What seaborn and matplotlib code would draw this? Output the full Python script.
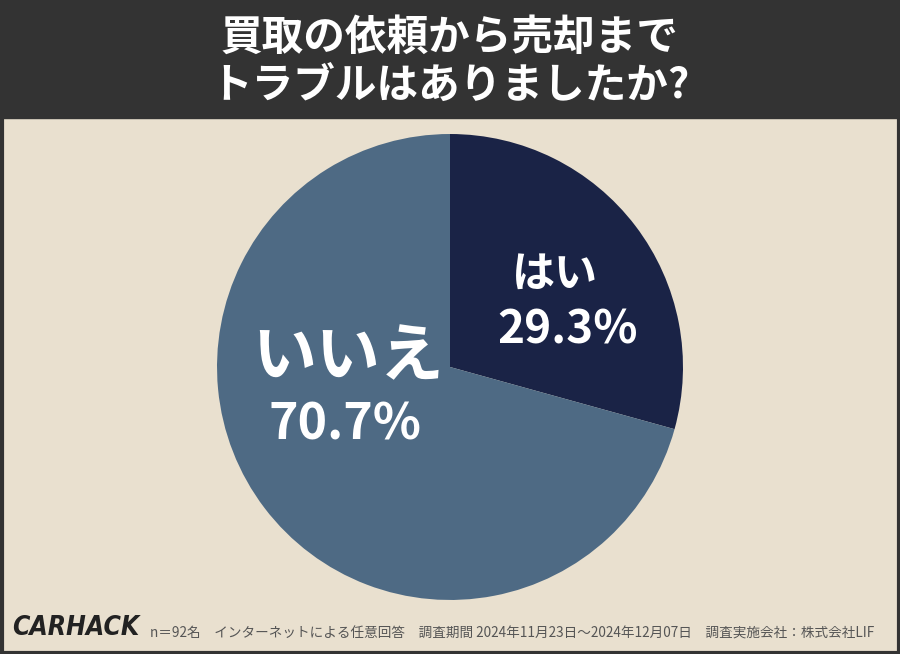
import matplotlib
matplotlib.use("Agg")
import matplotlib.pyplot as plt
import seaborn as sns
from matplotlib.patches import Rectangle

sns.set_theme(style="white")
plt.rcParams['font.family'] = ['Noto Sans CJK JP', 'DejaVu Sans']

labels = ["はい", "いいえ"]
values = [29.3, 70.7]
colors = ["#1a2346", "#4e6a84"]
title = "買取の依頼から売却まで\nトラブルはありましたか?"
footer = "n＝92名　インターネットによる任意回答　調査期間 2024年11月23日〜2024年12月07日　調査実施会社：株式会社LIF"

fig = plt.figure(figsize=(9, 6.54), dpi=100)
fig.patch.set_facecolor("#e9e0cf")
fig.patches.append(Rectangle((0, 654-118), 900, 118, transform=None, color="#333333", zorder=0))
fig.patches.append(Rectangle((1.5, 1.5), 897, 651, transform=None, fill=False, ec="#333333", lw=3, zorder=5))
fig.text(0.5, 1-62/654, title, ha="center", va="center", color="white", fontsize=30, fontweight="bold", linespacing=1.2)

ax = fig.add_axes([0.241, 0.0826, 0.518, 0.7125])
ax.pie(values, colors=colors, startangle=90, counterclock=False, radius=1,
       wedgeprops=dict(linewidth=0))
ax.set_aspect("equal")
ax.set_xlim(-1, 1); ax.set_ylim(-1, 1)
ax.axis("off")

def px(x, y):
    return ((x-450)/233, (367-y)/233)
x, y = px(555, 274)
ax.text(x, y, labels[0], ha="center", va="center", color="white", fontsize=31, fontweight="bold")
x, y = px(568, 331)
ax.text(x, y, f"{values[0]}%", ha="center", va="center", color="white", fontsize=33, fontweight="bold")
x, y = px(348, 357)
ax.text(x, y, labels[1], ha="center", va="center", color="white", fontsize=46, fontweight="bold")
x, y = px(345, 425)
ax.text(x, y, f"{values[1]}%", ha="center", va="center", color="white", fontsize=36, fontweight="bold")

fig.text(12/900, 1-628/654, "CARHACK", ha="left", va="center", color="#222222", fontsize=19,
         fontweight="black", fontstyle="italic", family="DejaVu Sans", fontstretch="condensed")
fig.text(150/900, 1-634/654, footer, ha="left", va="center", color="#555555", fontsize=9.8)

fig.savefig("out.png", dpi=100, facecolor=fig.get_facecolor())
